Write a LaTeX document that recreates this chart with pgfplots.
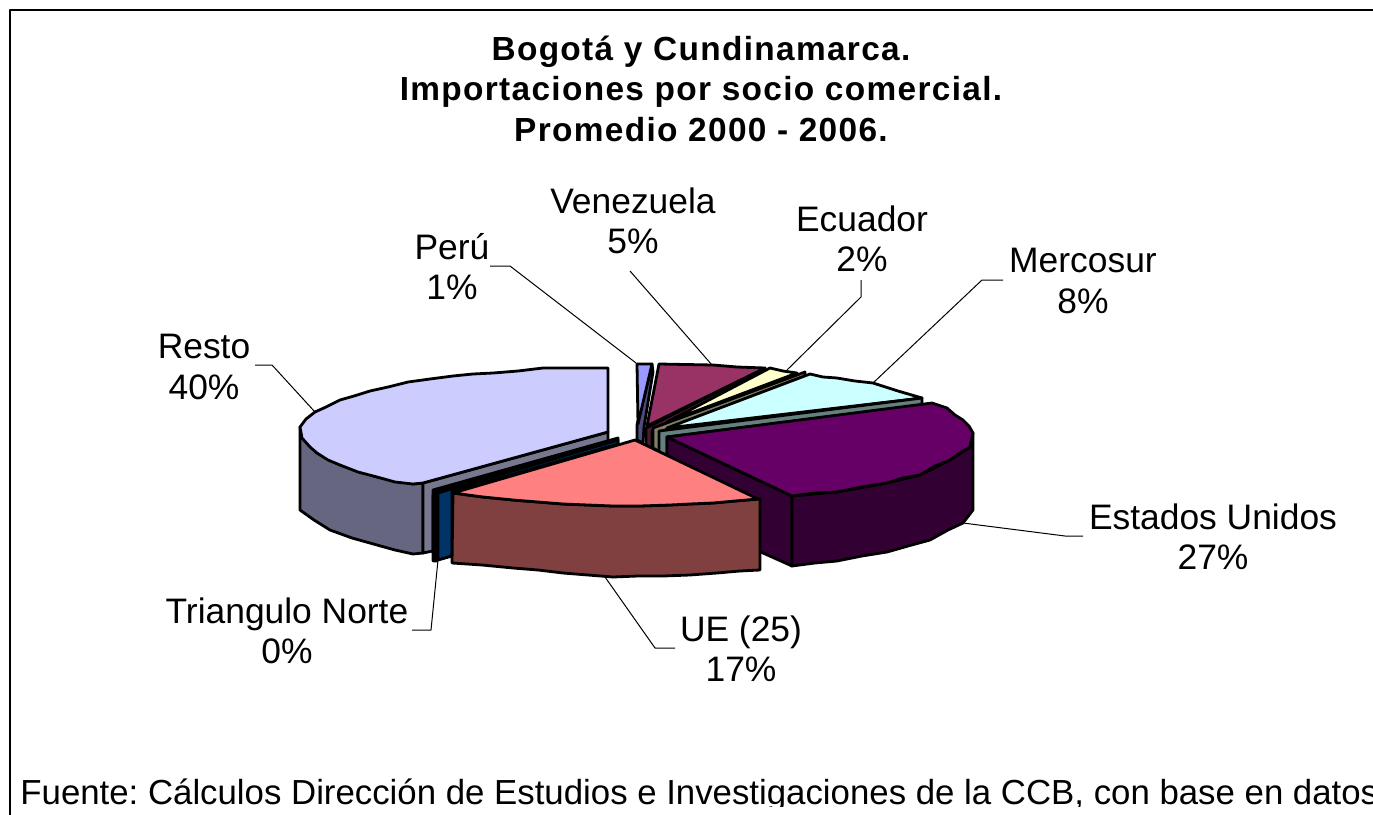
\documentclass[border=0pt]{standalone}
\usepackage{fontspec}
\setmainfont{Liberation Sans}
\usepackage{pgfplots}
\pgfplotsset{compat=1.18}
\definecolor{restoT}{HTML}{CCCCFF}\definecolor{restoS}{HTML}{666680}\definecolor{restoI}{HTML}{77778F}
\definecolor{triS}{HTML}{003366}
\definecolor{ueT}{HTML}{FF8080}\definecolor{ueS}{HTML}{804040}
\definecolor{usT}{HTML}{660066}\definecolor{usS}{HTML}{330033}
\definecolor{merT}{HTML}{CCFFFF}\definecolor{merS}{HTML}{668080}
\definecolor{ecuT}{HTML}{FFFFCC}\definecolor{ecuS}{HTML}{808066}
\definecolor{venT}{HTML}{993366}\definecolor{venS}{HTML}{4D1A33}
\definecolor{perT}{HTML}{9999FF}\definecolor{perS}{HTML}{4D4D80}
\newcommand{\lab}{\fontsize{17.7}{20}\selectfont}
\newcommand{\foot}{\fontsize{17.4}{20}\selectfont\frenchspacing}
\newcommand{\tit}{\fontsize{16.7}{20}\selectfont\bfseries\addfontfeature{LetterSpace=4}}
\tikzset{txt/.style={anchor=base, inner sep=0pt}}
\begin{document}
\begin{tikzpicture}
\path[use as bounding box] (0,0) rectangle (686.5pt,407.5pt);
\clip (0,0) rectangle (686.5pt,407.5pt);
\begin{axis}[
    scale only axis, width=686.5pt, height=407.5pt,
    xmin=0, xmax=1373, ymin=0, ymax=815, y dir=reverse,
    hide axis, clip=false,
    every axis plot/.append style={line join=round},
    slice/.style={draw=black, line width=1.4pt, fill=#1},
    leader/.style={draw=black, line width=0.5pt},
]
% frame
\addplot[draw=black, line width=0.6pt] coordinates {(10,815) (10,10) (1373,10)};
% leader lines
\addplot[leader] coordinates {(490,266) (510,266) (636,363)};
\addplot[leader] coordinates {(630,271) (712,365)};
\addplot[leader] coordinates {(861,280) (861,297) (787,370)};
\addplot[leader] coordinates {(1003,280) (982,280) (873,383)};
\addplot[leader] coordinates {(963,523) (1065,536) (1083,536)};
\addplot[leader] coordinates {(605,577) (655,648) (675,648)};
\addplot[leader] coordinates {(438,560) (431,630) (412,630)};
\addplot[leader] coordinates {(255,365) (272,365) (315,412)};
% Resto
\addplot[slice=restoS] coordinates {(300,427) (302,438) (317,453) (340,465) (377,477) (413,484) (423,483) (423,553) (413,554) (395,550) (377,545) (352,538) (330,530) (314,520) (300,510)} -- cycle;
\addplot[slice=restoI] coordinates {(423,483) (608,432) (608,445) (433,495) (433,551) (423,553)} -- cycle;
\addplot[slice=restoT] coordinates {(608,368) (575,368) (543,368) (518,371) (493,373) (473,374) (453,376) (430,379) (408,382) (388,387) (370,391) (354,396) (340,400) (326,407) (315,412) (306,419) (300,427) (302,438) (310,447) (317,453) (328,460) (340,465) (358,472) (377,477) (395,482) (413,484) (423,483) (608,432)} -- cycle;
% Triangulo Norte
\addplot[slice=black] coordinates {(433,490) (618,438) (618,444) (437,496) (437,561) (433,561)} -- cycle;
\addplot[slice=triS] coordinates {(438,493) (618,440) (618,444) (452,492) (452,556) (438,560)} -- cycle;
% Peru
\addplot[slice=perS] coordinates {(652,364) (653,372) (644,427) (643,443) (637,440) (637,425)} -- cycle;
\addplot[slice=perT] coordinates {(637,364) (652,364) (638,424)} -- cycle;
% Venezuela
\addplot[slice=venS] coordinates {(646,428) (765,368) (765,372) (652,431) (652,449) (646,445)} -- cycle;
\addplot[slice=venT] coordinates {(647,426) (659,364) (713,365) (737,367) (765,368)} -- cycle;
% Ecuador
\addplot[slice=ecuS] coordinates {(653,428) (805,372) (805,376) (660,432) (660,452) (653,448)} -- cycle;
\addplot[slice=ecuT] coordinates {(667,422) (770,368) (783,371) (797,373)} -- cycle;
% Mercosur
\addplot[slice=merT] coordinates {(667,428) (810,374) (823,377) (837,378) (855,381) (873,383) (898,391) (922,398)} -- cycle;
\addplot[slice=merS] coordinates {(659,431) (922,398) (922,405) (667,437) (667,456) (659,452)} -- cycle;
% Estados Unidos
\addplot[slice=usS] coordinates {(667,437) (792,496) (792,566) (667,510)} -- cycle;
\addplot[slice=usS] coordinates {(792,496) (837,492) (887,483) (920,475) (950,460) (970,447) (973,433) (973,510) (963,523) (948,530) (930,540) (908,546) (887,552) (862,556) (837,561) (815,563) (792,566)} -- cycle;
\addplot[slice=usT] coordinates {(667,437) (932,403) (947,408) (955,415) (963,420) (969,426) (973,433) (970,447) (960,453) (950,460) (935,466) (920,475) (903,478) (887,483) (862,487) (837,492) (815,493) (792,496)} -- cycle;
% UE
\addplot[slice=ueS] coordinates {(453,493) (483,497) (513,500) (538,502) (563,504) (588,505) (613,506) (640,506) (670,505) (690,504) (713,503) (735,501) (760,499) (760,570) (740,571) (717,573) (690,575) (663,576) (638,576) (613,577) (588,575) (563,573) (538,570) (513,568) (482,565) (452,563)} -- cycle;
\addplot[slice=ueT] coordinates {(635,440) (453,493) (483,497) (513,500) (538,502) (563,504) (588,505) (613,506) (640,506) (670,505) (690,504) (713,503) (735,501) (758,499)} -- cycle;
% titulo
\node[txt, font=\tit] at (axis cs:701,60) {Bogotá y Cundinamarca.};
\node[txt, font=\tit] at (axis cs:701,100) {Importaciones por socio comercial.};
\node[txt, font=\tit] at (axis cs:701,141) {Promedio 2000 - 2006.};
% etiquetas
\node[txt, font=\lab] at (axis cs:633,213) {Venezuela};
\node[txt, font=\lab] at (axis cs:633,253) {5\%};
\node[txt, font=\lab] at (axis cs:862,231) {Ecuador};
\node[txt, font=\lab] at (axis cs:862,271) {2\%};
\node[txt, font=\lab] at (axis cs:1083,272) {Mercosur};
\node[txt, font=\lab] at (axis cs:1083,313) {8\%};
\node[txt, font=\lab] at (axis cs:452,259) {Perú};
\node[txt, font=\lab] at (axis cs:452,299) {1\%};
\node[txt, font=\lab] at (axis cs:204,358) {Resto};
\node[txt, font=\lab] at (axis cs:204,399) {40\%};
\node[txt, font=\lab] at (axis cs:1213,529) {Estados Unidos};
\node[txt, font=\lab] at (axis cs:1213,569) {27\%};
\node[txt, font=\lab] at (axis cs:741,641) {UE (25)};
\node[txt, font=\lab] at (axis cs:741,681) {17\%};
\node[txt, font=\lab] at (axis cs:287,623) {Triangulo Norte};
\node[txt, font=\lab] at (axis cs:287,663) {0\%};
\node[font=\foot, anchor=base west, inner sep=0pt] at (axis cs:20,804) {Fuente: Cálculos Dirección de Estudios e Investigaciones de la CCB, con base en datos};
\end{axis}
\fill[white] (6pt,0) rectangle (686.5pt,4pt);
\end{tikzpicture}
\end{document}
